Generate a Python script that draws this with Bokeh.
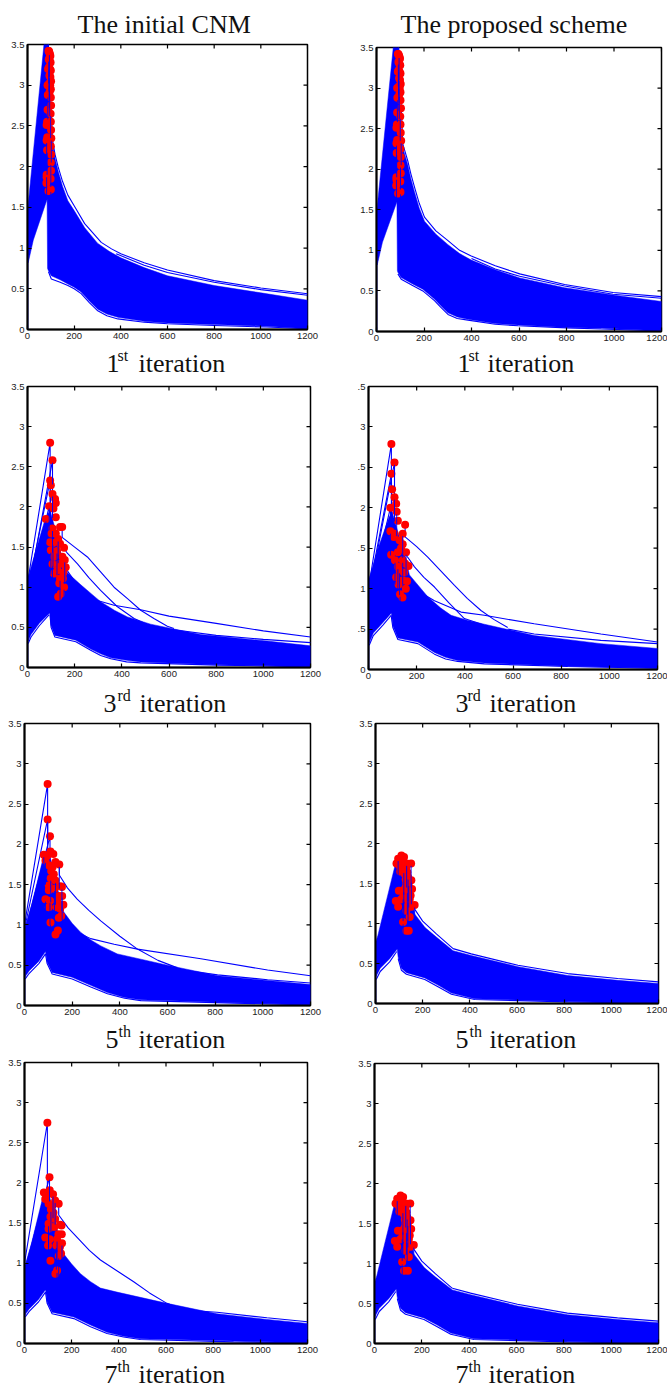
from bokeh.plotting import figure
from bokeh.layouts import column, row
from bokeh.models import Range1d, FixedTicker
from bokeh.core.properties import value
from bokeh.embed import file_html
from bokeh.resources import INLINE

# ---------- shared tick values and labels ----------
x_ticks = [0, 200, 400, 600, 800, 1000, 1200]
y_ticks = [0, 0.5, 1, 1.5, 2, 2.5, 3, 3.5]
y_labels = ["0", "0.5", "1", "1.5", "2", "2.5", "3", "3.5"]
y_labels_cut = ["0", ".5", "1", ".5", "2", ".5", "3", ".5"]

# ---------- 1st iteration ----------
A1_top = [(0, 1.45), (74, 3.6), (90, 3.6), (96, 2.6), (107, 2.28), (118, 2.1), (131, 1.95), (150, 1.76), (173, 1.58), (200, 1.46), (245, 1.25),
          (300, 1.06), (350, 0.96), (400, 0.88), (500, 0.76), (600, 0.66), (800, 0.54), (1000, 0.45), (1200, 0.36)]
A1_low = [(3, 0.82), (25, 1.1), (84, 1.6), (86, 0.75), (90, 0.72), (102, 0.66), (140, 0.61), (173, 0.56), (200, 0.52), (230, 0.46), (265, 0.35), (301, 0.25), (340, 0.19), (387, 0.15),
          (500, 0.1), (600, 0.08), (800, 0.06), (1026, 0.04), (1200, 0.01)]
A1_edges = [
    ([1, 1], [0, 1.5]),
    ([88, 107, 118, 131, 150, 173, 200, 245, 316, 360, 400, 500, 600, 800, 1000, 1200], [3.6, 2.33, 2.15, 2.0, 1.82, 1.65, 1.52, 1.3, 1.07, 0.99, 0.93, 0.82, 0.73, 0.6, 0.51, 0.44]),
    ([380, 500, 600, 800, 1000, 1200], [0.93, 0.79, 0.7, 0.58, 0.49, 0.42]),
    ([90, 102, 140, 173, 200, 230, 265, 301, 340, 387, 500, 600, 800, 1026, 1200], [0.71, 0.62, 0.58, 0.54, 0.5, 0.44, 0.33, 0.23, 0.17, 0.13, 0.09, 0.07, 0.05, 0.03, 0.01]),
]
A1_dot_x = [82, 82, 82, 81, 82, 84, 85, 87, 90, 92, 94, 96, 98, 91, 95, 99, 92, 96, 100, 94, 98, 101, 93, 97, 100, 95, 100, 101, 99, 100, 101, 102, 100, 101, 100, 101, 99, 100, 88, 86, 84, 90, 86]
A1_dot_y = [2.51, 2.32, 1.87, 1.8, 1.9, 2.55, 2.36, 2.88, 3.42, 3.42, 3.4, 3.38, 3.36, 3.32, 3.3, 3.28, 3.22, 3.2, 3.18, 3.12, 3.1, 3.05, 3.02, 3.0, 2.95, 2.92, 2.85, 2.75, 2.65, 2.55, 2.45, 2.35, 2.25, 2.15, 2.05, 1.95, 1.85, 1.72, 3.2, 2.7, 2.2, 1.7, 3.0]

B1_top = [(0, 1.45), (74, 3.6), (92, 3.6), (100, 2.6), (111, 2.26), (132, 2.05), (145, 1.88), (160, 1.72), (180, 1.52), (202, 1.36), (250, 1.2), (301, 1.07), (350, 0.96), (399, 0.88),
          (500, 0.76), (603, 0.66), (792, 0.54), (996, 0.45), (1200, 0.37)]
B1_low = [(3, 0.82), (25, 1.1), (86, 1.6), (88, 0.75), (90, 0.73), (104, 0.665), (150, 0.59), (195, 0.52), (244, 0.4), (270, 0.32), (301, 0.23), (340, 0.18), (385, 0.15),
          (500, 0.1), (596, 0.08), (800, 0.05), (947, 0.04), (1200, 0.008)]
B1_edges = [
    ([1, 1], [0, 1.5]),
    ([92, 111, 132, 145, 160, 180, 202, 250, 301, 350, 399, 500, 603, 792, 996, 1200], [3.6, 2.31, 2.1, 1.94, 1.78, 1.58, 1.41, 1.24, 1.12, 1.0, 0.93, 0.81, 0.71, 0.58, 0.48, 0.43]),
    ([400, 500, 603, 792, 996, 1200], [0.9, 0.77, 0.68, 0.56, 0.46, 0.41]),
    ([90, 104, 150, 195, 244, 270, 301, 340, 385, 500, 596, 800, 947, 1200], [0.71, 0.645, 0.57, 0.5, 0.38, 0.3, 0.21, 0.16, 0.14, 0.09, 0.07, 0.045, 0.03, 0.008]),
]
B1_dot_x = [84, 84, 84, 83, 84, 86, 87, 88, 90, 92, 95, 97, 99, 92, 96, 100, 93, 97, 101, 95, 99, 102, 94, 98, 101, 96, 101, 103, 100, 101, 102, 104, 101, 102, 101, 102, 100, 101, 90, 87, 85, 91, 87]
B1_dot_y = [2.51, 2.32, 1.87, 1.8, 1.9, 2.55, 2.36, 2.88, 3.42, 3.42, 3.4, 3.38, 3.36, 3.32, 3.3, 3.28, 3.22, 3.2, 3.18, 3.12, 3.1, 3.05, 3.02, 3.0, 2.95, 2.92, 2.85, 2.75, 2.65, 2.55, 2.45, 2.35, 2.25, 2.15, 2.05, 1.95, 1.85, 1.72, 3.2, 2.7, 2.2, 1.7, 3.0]

# ---------- 3rd iteration ----------
A2_top = [(0, 1.1), (40, 1.5), (78, 1.88), (96, 1.95), (120, 1.7), (150, 1.3), (162, 1.2), (226, 1.03), (270, 0.92), (310, 0.82), (370, 0.71), (424, 0.63),
          (522, 0.54), (734, 0.41), (1016, 0.33), (1200, 0.27)]
A2_low = [(3, 0.33), (15, 0.41), (50, 0.55), (94, 0.68), (99, 0.53), (116, 0.4), (205, 0.34), (268, 0.23), (310, 0.17), (353, 0.12), (420, 0.09), (480, 0.07),
          (805, 0.035), (1200, 0.008)]
A2_edges = [
    ([1, 1], [0, 1.0]),
    ([0, 96, 96], [1.05, 2.8, 1.8]),
    ([0, 96, 99], [0.95, 2.33, 1.7]),
    ([0, 106, 106], [0.9, 2.58, 1.7]),
    ([0, 92, 96], [0.85, 2.01, 1.7]),
    ([147, 147, 200, 254, 310, 367, 424, 480, 536, 593, 621], [1.75, 1.62, 1.5, 1.377, 1.19, 1.0, 0.858, 0.713, 0.61, 0.514, 0.485]),
    ([125, 170, 212, 260, 310, 380, 452, 520], [1.6, 1.42, 1.29, 1.12, 0.96, 0.76, 0.61, 0.52]),
    ([125, 170, 230, 289, 367, 480, 600, 800, 1000, 1200], [1.55, 1.2, 0.95, 0.84, 0.775, 0.72, 0.64, 0.55, 0.456, 0.38]),
    ([621, 800, 1000, 1200], [0.47, 0.4, 0.35, 0.31]),
    ([3, 15, 50, 92], [0.3, 0.38, 0.52, 0.66]),
    ([96, 100, 116, 205, 268, 310, 353, 420, 480, 805, 1200], [0.65, 0.5, 0.38, 0.32, 0.215, 0.15, 0.11, 0.07, 0.058, 0.03, 0.008]),
]
A2_dot_x = [96, 106, 96, 99, 106, 117, 120, 92, 110, 120, 78, 138, 147, 106, 102, 120, 130, 96, 155, 99, 138, 148, 158, 162, 113, 138, 150, 127, 155, 130, 141, 106, 113, 134, 125, 145, 152, 108, 135]
A2_dot_y = [2.8, 2.58, 2.33, 2.27, 2.16, 2.1, 2.05, 2.01, 1.98, 1.87, 1.85, 1.75, 1.75, 1.73, 1.67, 1.67, 1.6, 1.56, 1.49, 1.46, 1.54, 1.38, 1.34, 1.25, 1.17, 1.11, 1.11, 1.21, 1.0, 0.88, 0.92, 1.29, 1.38, 1.29, 1.45, 1.3, 1.18, 1.55, 1.05]

B2_top = [(0, 1.1), (40, 1.5), (85, 1.88), (98, 1.95), (122, 1.7), (152, 1.4), (170, 1.17), (246, 0.9), (300, 0.76), (343, 0.67), (410, 0.61), (481, 0.56),
          (688, 0.42), (965, 0.32), (1200, 0.26)]
B2_low = [(3, 0.33), (20, 0.45), (60, 0.58), (95, 0.7), (101, 0.54), (122, 0.39), (205, 0.34), (274, 0.21), (320, 0.15), (370, 0.11), (481, 0.08),
          (827, 0.04), (1200, 0.016)]
B2_edges = [
    ([1, 1], [0, 1.0]),
    ([0, 95, 95], [1.0, 2.79, 1.8]),
    ([0, 95, 98], [0.95, 2.42, 1.7]),
    ([0, 108, 108], [0.9, 2.56, 1.7]),
    ([0, 91, 94], [0.85, 2.0, 1.7]),
    ([152, 152, 200, 246, 300, 357, 410, 467, 520, 578], [1.79, 1.64, 1.52, 1.39, 1.22, 1.04, 0.88, 0.73, 0.62, 0.52]),
    ([130, 160, 191, 230, 274, 335, 398, 470], [1.55, 1.4, 1.27, 1.14, 1.02, 0.82, 0.63, 0.56]),
    ([135, 200, 274, 384, 481, 688, 965, 1200], [1.18, 0.98, 0.85, 0.71, 0.67, 0.565, 0.44, 0.34]),
    ([578, 688, 965, 1200], [0.5, 0.44, 0.36, 0.32]),
    ([3, 20, 60, 94], [0.3, 0.42, 0.55, 0.67]),
    ([94, 101, 122, 205, 274, 320, 370, 481, 827, 1200], [0.67, 0.52, 0.37, 0.32, 0.19, 0.13, 0.1, 0.07, 0.037, 0.016]),
]
B2_dot_x = [95, 108, 95, 98, 108, 115, 91, 117, 122, 152, 91, 108, 105, 142, 129, 142, 156, 94, 122, 142, 166, 152, 122, 142, 160, 131, 141, 115, 129, 135, 148, 110, 125, 155]
B2_dot_y = [2.79, 2.56, 2.42, 2.23, 2.13, 2.05, 2.0, 1.95, 1.84, 1.79, 1.71, 1.68, 1.64, 1.68, 1.6, 1.55, 1.45, 1.42, 1.45, 1.35, 1.28, 1.31, 1.27, 1.1, 1.09, 0.93, 0.89, 1.14, 1.22, 1.5, 1.2, 1.35, 1.05, 1.0]

# ---------- 5th iteration ----------
A3_top = [(0, 0.95), (30, 1.25), (80, 1.85), (97, 1.95), (125, 1.65), (150, 1.3), (165, 1.16), (200, 1.02), (235, 0.91), (280, 0.81), (320, 0.74), (390, 0.64),
          (600, 0.5), (810, 0.37), (1020, 0.31), (1200, 0.26)]
A3_low = [(3, 0.36), (20, 0.43), (60, 0.55), (88, 0.67), (95, 0.54), (116, 0.41), (200, 0.35), (278, 0.25), (348, 0.16), (420, 0.1), (488, 0.07),
          (880, 0.035), (1200, 0.008)]
A3_edges = [
    ([1, 1], [0, 0.95]),
    ([0, 97, 97], [1.0, 2.75, 1.9]),
    ([0, 97, 97], [0.95, 2.31, 1.8]),
    ([0, 107, 107], [0.9, 2.1, 1.7]),
    ([146, 146, 180, 221, 270, 320, 400, 474, 560, 642], [1.75, 1.62, 1.46, 1.32, 1.18, 1.05, 0.86, 0.7, 0.56, 0.467]),
    ([165, 221, 278, 376, 474, 740, 1020, 1200], [1.09, 0.91, 0.83, 0.76, 0.7, 0.58, 0.44, 0.37]),
    ([642, 810, 1020, 1200], [0.45, 0.38, 0.32, 0.28]),
    ([3, 20, 60, 88], [0.33, 0.4, 0.52, 0.64]),
    ([88, 95, 116, 200, 278, 348, 420, 488, 880, 1200], [0.64, 0.52, 0.39, 0.33, 0.23, 0.145, 0.09, 0.06, 0.03, 0.008]),
]
A3_dot_x = [97, 97, 107, 109, 81, 121, 95, 88, 130, 102, 146, 112, 123, 130, 102, 151, 157, 102, 144, 158, 163, 102, 107, 144, 154, 109, 140, 130, 88, 135, 118, 126, 138, 150, 110]
A3_dot_y = [2.75, 2.31, 2.1, 1.91, 1.87, 1.88, 1.86, 1.8, 1.78, 1.74, 1.75, 1.67, 1.63, 1.55, 1.49, 1.48, 1.47, 1.43, 1.36, 1.36, 1.25, 1.22, 1.3, 1.09, 1.11, 1.03, 0.93, 0.88, 1.32, 1.22, 1.72, 1.45, 1.3, 1.2, 1.58]

B3_top = [(0, 0.76), (10, 0.85), (85, 1.75), (110, 1.8), (150, 1.4), (166, 1.12), (210, 0.95), (258, 0.83), (329, 0.66), (406, 0.6), (604, 0.46),
          (815, 0.35), (1027, 0.29), (1200, 0.25)]
B3_low = [(3, 0.34), (20, 0.44), (60, 0.56), (92, 0.68), (96, 0.58), (110, 0.44), (131, 0.385), (209, 0.32), (265, 0.23), (322, 0.13),
          (420, 0.06), (815, 0.025), (1200, 0.004)]
B3_edges = [
    ([1, 1], [0, 0.78]),
    ([166, 200, 258, 329], [1.18, 1.03, 0.87, 0.686]),
    ([329, 406, 604, 815, 1027, 1200], [0.686, 0.62, 0.478, 0.374, 0.312, 0.27]),
    ([3, 20, 60, 90], [0.3, 0.4, 0.52, 0.65]),
    ([96, 110, 131, 209, 265, 322, 420, 815, 1200], [0.56, 0.415, 0.365, 0.3, 0.21, 0.116, 0.05, 0.02, 0.004]),
]
B3_dot_x = [110, 96, 89, 121, 151, 99, 131, 138, 155, 149, 166, 152, 131, 135, 131, 141, 117, 96, 86, 117, 145, 131, 138, 103, 124, 152, 113, 128, 120, 135, 128, 141, 126, 136, 120, 105, 108, 132, 145]
B3_dot_y = [1.85, 1.81, 1.75, 1.83, 1.75, 1.41, 1.7, 1.58, 1.43, 1.35, 1.23, 1.21, 1.5, 1.41, 0.91, 0.91, 1.33, 1.21, 1.28, 1.02, 1.08, 1.16, 1.29, 1.72, 1.62, 1.54, 1.78, 1.45, 1.66, 1.64, 1.55, 1.5, 1.36, 1.22, 1.42, 1.65, 1.3, 1.75, 1.3]

# ---------- 7th iteration ----------
A4_top = [(0, 0.95), (30, 1.25), (80, 1.85), (97, 1.95), (125, 1.6), (150, 1.28), (160, 1.14), (200, 0.99), (237, 0.87), (280, 0.77), (322, 0.69), (392, 0.64),
          (604, 0.5), (816, 0.37), (1028, 0.3), (1200, 0.25)]
A4_low = [(3, 0.36), (20, 0.43), (60, 0.55), (89, 0.67), (96, 0.52), (117, 0.39), (209, 0.33), (280, 0.23), (350, 0.14), (420, 0.09), (491, 0.06),
          (887, 0.03), (1200, 0.008)]
A4_edges = [
    ([1, 1], [0, 0.95]),
    ([0, 97, 97], [1.0, 2.75, 1.9]),
    ([0, 106, 106], [0.9, 2.07, 1.7]),
    ([145, 145, 185, 230, 275, 322, 390, 463, 530, 604, 660], [1.74, 1.6, 1.44, 1.3, 1.16, 1.04, 0.91, 0.77, 0.63, 0.5, 0.436]),
    ([660, 816, 1028, 1200], [0.42, 0.39, 0.32, 0.27]),
    ([3, 20, 60, 89], [0.33, 0.4, 0.52, 0.64]),
    ([89, 96, 117, 209, 280, 350, 420, 491, 887, 1200], [0.64, 0.5, 0.37, 0.31, 0.21, 0.125, 0.08, 0.05, 0.02, 0.008]),
]
A4_dot_x = [97, 106, 107, 82, 121, 95, 88, 130, 102, 145, 112, 123, 130, 102, 151, 157, 102, 144, 158, 159, 100, 107, 145, 155, 110, 138, 131, 88, 135, 118, 126, 138, 150, 110]
A4_dot_y = [2.75, 2.07, 1.91, 1.88, 1.86, 1.86, 1.8, 1.78, 1.74, 1.74, 1.67, 1.63, 1.55, 1.49, 1.48, 1.47, 1.43, 1.36, 1.36, 1.25, 1.22, 1.3, 1.09, 1.12, 1.03, 0.91, 0.87, 1.32, 1.22, 1.72, 1.45, 1.3, 1.2, 1.58]

B4_top = [(0, 0.76), (10, 0.85), (85, 1.75), (110, 1.8), (150, 1.4), (166, 1.12), (210, 0.95), (258, 0.83), (329, 0.67), (406, 0.61), (604, 0.47),
          (815, 0.36), (1027, 0.3), (1200, 0.26)]
B4_low = [(3, 0.34), (20, 0.44), (60, 0.56), (92, 0.68), (96, 0.58), (110, 0.44), (131, 0.385), (209, 0.32), (265, 0.23), (322, 0.13),
          (420, 0.06), (815, 0.025), (1200, 0.004)]
B4_edges = [
    ([1, 1], [0, 0.78]),
    ([166, 200, 258, 329], [1.18, 1.03, 0.87, 0.69]),
    ([329, 406, 604, 815, 1027, 1200], [0.69, 0.63, 0.49, 0.38, 0.32, 0.28]),
    ([3, 20, 60, 90], [0.3, 0.4, 0.52, 0.65]),
    ([96, 110, 131, 209, 265, 322, 420, 815, 1200], [0.56, 0.415, 0.365, 0.3, 0.21, 0.116, 0.05, 0.02, 0.004]),
]
B4_dot_x = [110, 96, 89, 121, 151, 99, 131, 138, 155, 149, 166, 152, 131, 135, 125, 141, 117, 96, 86, 117, 145, 131, 138, 103, 124, 152, 113, 128, 120, 135, 128, 141, 126, 136, 120, 105, 108, 132, 145]
B4_dot_y = [1.85, 1.81, 1.75, 1.83, 1.75, 1.41, 1.7, 1.58, 1.43, 1.35, 1.23, 1.21, 1.5, 1.41, 0.91, 0.91, 1.33, 1.21, 1.28, 1.02, 1.08, 1.16, 1.29, 1.72, 1.62, 1.54, 1.78, 1.45, 1.66, 1.64, 1.55, 1.5, 1.36, 1.22, 1.42, 1.65, 1.3, 1.75, 1.3]

# ---------- panel texts ----------
column_titles = ["The initial CNM", "The proposed scheme"]
iteration_nums = ["1", "3", "5", "7"]
iteration_sups = ["st", "rd", "th", "th"]

TICK_FONT = "Liberation Sans"
SERIF = "Liberation Serif"
BLUE = "#0000FF"
RED = "#FF0000"


def panel(cell, frame, data, cut_labels=False):
    # cell/frame: (left, top, right, bottom) in page pixels
    top, low, edges, dx, dy = data
    p = figure(width=cell[2] - cell[0], height=cell[3] - cell[1], title=None,
               x_range=Range1d(0, 1200), y_range=Range1d(0, 3.5),
               output_backend="svg", toolbar_location=None,
               min_border_left=frame[0] - cell[0], min_border_right=cell[2] - frame[2],
               min_border_top=frame[1] - cell[1], min_border_bottom=cell[3] - frame[3],
               outline_line_color="#000000", outline_line_width=1.5, background_fill_color="white")
    p.grid.visible = False
    labels = y_labels_cut if cut_labels else y_labels
    for ax, ticks, over in ((p.xaxis[0], x_ticks, {t: str(t) for t in x_ticks}),
                            (p.yaxis[0], y_ticks, dict(zip(y_ticks, labels)))):
        ax.ticker = FixedTicker(ticks=ticks)
        ax.major_label_overrides = over
        ax.major_tick_in = 4
        ax.major_tick_out = 0
        ax.minor_tick_line_color = None
        ax.axis_line_width = 2
        ax.major_tick_line_width = 1.2
        ax.major_label_text_font = TICK_FONT
        ax.major_label_text_font_size = "9.5px"
        ax.major_label_text_color = "#222222"
        ax.major_label_standoff = 3
    p.yaxis[0].major_label_orientation = "horizontal"

    band_x = [q[0] for q in top] + [q[0] for q in reversed(low)]
    band_y = [q[1] for q in top] + [q[1] for q in reversed(low)]
    p.patch(band_x, band_y, color=BLUE, line_width=0.5)
    p.multi_line([e[0] for e in edges], [e[1] for e in edges], line_color=BLUE, line_width=1.1)
    p.scatter(dx, dy, size=8, color=RED, line_width=0)
    # the curves pass through their own peak and fall away under the later ones
    p.segment(dx[1::3], [y - 0.03 for y in dy[1::3]], dx[1::3], [y - 0.3 for y in dy[1::3]], line_color=BLUE, line_width=0.9)

    # inward ticks mirrored on the top and right sides of the box
    tick_h = 4 * 3.5 / (frame[3] - frame[1])
    tick_w = 4 * 1200 / (frame[2] - frame[0])
    p.segment(x_ticks, [3.5] * len(x_ticks), x_ticks, [3.5 - tick_h] * len(x_ticks), line_color="#000000", line_width=1.2)
    p.segment([1200] * len(y_ticks), y_ticks, [1200 - tick_w] * len(y_ticks), y_ticks, line_color="#000000", line_width=1.2)
    return p


def strip(y0, y1, items):
    # a band of text, whose scales are the page's own pixels
    p = figure(width=667, height=y1 - y0, x_range=Range1d(0, 667), y_range=Range1d(y1, y0), title=None,
               output_backend="svg", toolbar_location=None, min_border=0,
               outline_line_color=None, x_axis_type=None, y_axis_type=None)
    p.grid.visible = False
    for text, left, baseline, size in items:
        p.text([left], [baseline - 0.3 * size], text=[text], text_font=value(SERIF), text_font_size=value(f"{size}px"),
               text_color="#111111", text_baseline="alphabetic", text_align="left")
    return p


panel_rows = [(38, 346), (378, 684), (718, 1022), (1054, 1357)]
strip_rows = [(346, 378), (684, 718), (1022, 1054), (1357, 1389)]
frames = {
    "A1": (27, 44, 307, 329), "B1": (376, 47, 661, 331),
    "A2": (27, 386, 310, 667), "B2": (368, 386, 657, 669),
    "A3": (24, 723, 310, 1005), "B3": (375, 723, 658, 1003),
    "A4": (24, 1062, 307, 1343), "B4": (374, 1063, 658, 1343),
}
tables = {
    "A1": (A1_top, A1_low, A1_edges, A1_dot_x, A1_dot_y), "B1": (B1_top, B1_low, B1_edges, B1_dot_x, B1_dot_y),
    "A2": (A2_top, A2_low, A2_edges, A2_dot_x, A2_dot_y), "B2": (B2_top, B2_low, B2_edges, B2_dot_x, B2_dot_y),
    "A3": (A3_top, A3_low, A3_edges, A3_dot_x, A3_dot_y), "B3": (B3_top, B3_low, B3_edges, B3_dot_x, B3_dot_y),
    "A4": (A4_top, A4_low, A4_edges, A4_dot_x, A4_dot_y), "B4": (B4_top, B4_low, B4_edges, B4_dot_x, B4_dot_y),
}
# text starts (number, superscript, word) and baseline per panel, in page pixels
text_pos = {
    "A1": (106, 117, 138, 371), "B1": (457, 468, 487, 371),
    "A2": (103, 117, 139, 711), "B2": (455, 467, 489, 711),
    "A3": (105, 118, 138, 1047), "B3": (455, 469, 489, 1047),
    "A4": (104, 117, 138, 1382), "B4": (455, 468, 488, 1382),
}

blocks = [strip(0, 38, [(column_titles[0], 77, 32, 26), (column_titles[1], 400, 32, 26)])]
for i, (y0, y1) in enumerate(panel_rows):
    cells = []
    items = []
    for col, (x0, x1) in (("A", (0, 334)), ("B", (334, 667))):
        key = f"{col}{i + 1}"
        # each panel sits in its own column so the row does not line up their frames
        cells.append(column(panel((x0, y0, x1, y1), frames[key], tables[key], cut_labels=key == "B2")))
        n, s, w, base = text_pos[key]
        items += [(iteration_nums[i], n, base, 26), (iteration_sups[i], s, base - 11, 16), ("iteration", w, base, 26)]
    blocks.append(row(*cells, spacing=0))
    blocks.append(strip(strip_rows[i][0], strip_rows[i][1], items))

page = column(*blocks, spacing=0)
open("out.html", "w").write(file_html(page, INLINE))
